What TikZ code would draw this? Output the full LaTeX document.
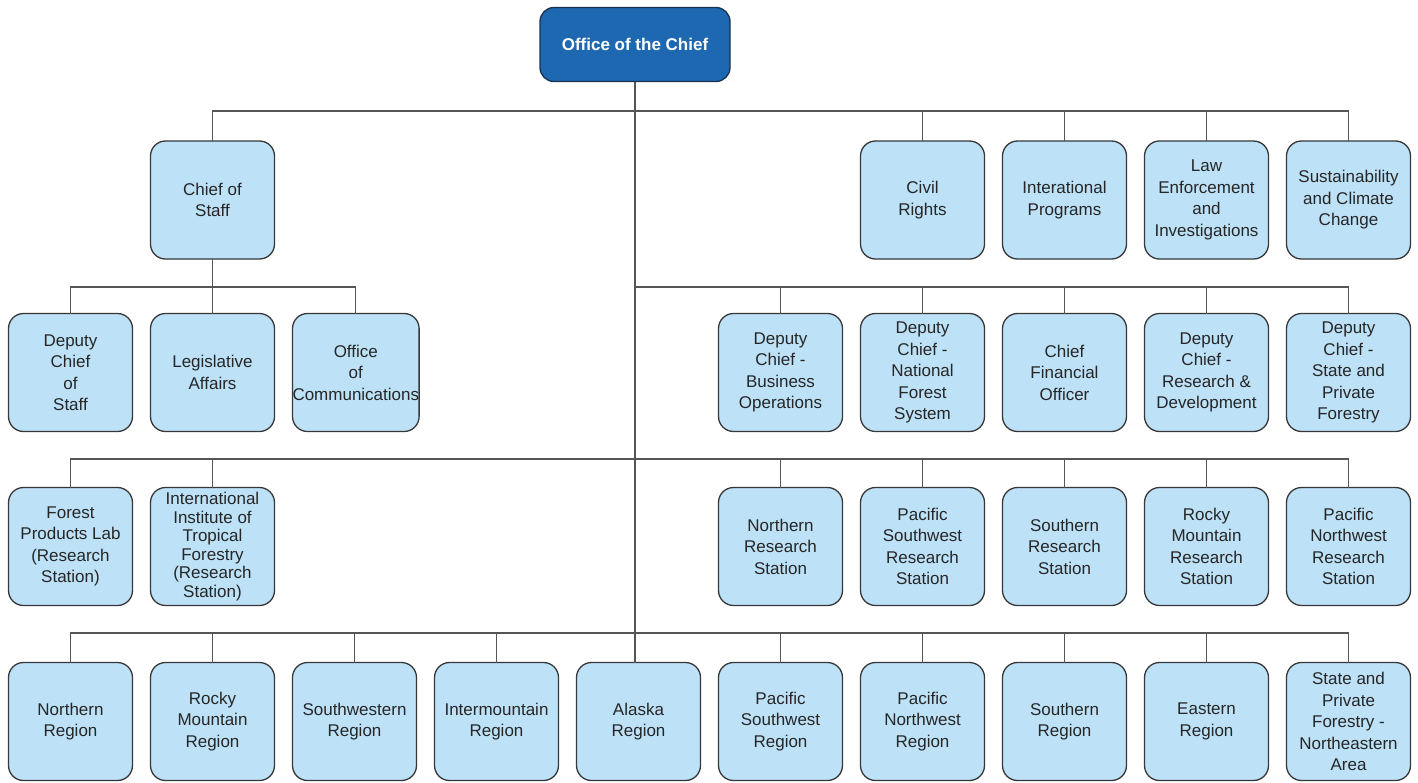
\documentclass[tikz,border=0pt]{standalone}
\usepackage{fontspec}
\setmainfont{Liberation Sans}
\usepackage{xcolor}
\usetikzlibrary{positioning}
\definecolor{boxblue}{RGB}{189,225,247}
\definecolor{chiefblue}{RGB}{30,104,178}
\definecolor{chiefedge}{RGB}{25,50,80}
\definecolor{edgegray}{RGB}{55,55,55}
\definecolor{linegray}{RGB}{85,85,85}

\begin{document}
\begin{tikzpicture}[
  x=1pt, y=-1pt,
  font=\fontsize{17}{21.5}\selectfont,
  box/.style={draw=edgegray, line width=1.3pt, fill=boxblue, rounded corners=15pt, align=center, minimum width=124pt, minimum height=118pt, inner sep=0pt, outer sep=0pt, text=black!85},
  chief/.style={draw=chiefedge, line width=1.3pt, fill=chiefblue, rounded corners=14pt, align=center, minimum width=190pt, minimum height=74pt, inner sep=0pt, outer sep=0pt, text=white, font=\bfseries\fontsize{17}{21.5}\selectfont},
  link/.style={draw=linegray, line width=1.3pt}
]
\useasboundingbox (0,0) rectangle (1418,782);

\node[chief] (chief) at (635,44.5) {Office of the Chief};

% row 1
\node[box] (staff) at (212.5,200) {Chief of\\Staff};
\node[box, right=586pt of staff] (civil) {Civil\\Rights};
\node[box, right=18pt of civil] (intl) {Interational\\Programs};
\node[box, right=18pt of intl] (law) {Law\\Enforcement\\and\\Investigations};
\node[box, right=18pt of law] (climate) {Sustainability\\and Climate\\Change};

% row 2
\node[box] (dstaff) at (70.5,372.5) {Deputy\\Chief\\of\\Staff};
\node[box, right=18pt of dstaff] (legis) {Legislative\\Affairs};
\node[box, right=18pt of legis] (comms) {Office\\of\\Communications};
\node[box, right=444pt of legis] (business) {Deputy\\Chief -\\Business\\Operations};
\node[box, right=18pt of business] (nfs) {Deputy\\Chief -\\National\\Forest\\System};
\node[box, right=18pt of nfs] (cfo) {Chief\\Financial\\Officer};
\node[box, right=18pt of cfo] (rnd) {Deputy\\Chief -\\Research \&\\Development};
\node[box, right=18pt of rnd] (spf) {Deputy\\Chief -\\State and\\Private\\Forestry};

% row 3
\node[box] (fpl) at (70.5,546.5) {Forest\\Products Lab\\(Research\\Station)};
\node[box, right=18pt of fpl, font=\fontsize{17}{18.5}\selectfont] (iitf) {International\\Institute of\\Tropical\\Forestry\\(Research\\Station)};
\node[box, right=444pt of iitf] (nrs) {Northern\\Research\\Station};
\node[box, right=18pt of nrs] (psw) {Pacific\\Southwest\\Research\\Station};
\node[box, right=18pt of psw] (srs) {Southern\\Research\\Station};
\node[box, right=18pt of srs] (rmrs) {Rocky\\Mountain\\Research\\Station};
\node[box, right=18pt of rmrs] (pnw) {Pacific\\Northwest\\Research\\Station};

% row 4
\node[box] (northern) at (70.5,721.5) {Northern\\Region};
\node[box, right=18pt of northern] (rocky) {Rocky\\Mountain\\Region};
\node[box, right=18pt of rocky] (southwestern) {Southwestern\\Region};
\node[box, right=18pt of southwestern] (intermountain) {Intermountain\\Region};
\node[box, right=18pt of intermountain] (alaska) {Alaska\\Region};
\node[box, right=18pt of alaska] (pacsw) {Pacific\\Southwest\\Region};
\node[box, right=18pt of pacsw] (pacnw) {Pacific\\Northwest\\Region};
\node[box, right=18pt of pacnw] (southern) {Southern\\Region};
\node[box, right=18pt of southern] (eastern) {Eastern\\Region};
\node[box, right=18pt of eastern] (neast) {State and\\Private\\Forestry -\\Northeastern\\Area};

% bus lines
\coordinate (bus1) at (0,111);
\coordinate (bus2) at (0,287);
\coordinate (bus3) at (0,459);
\coordinate (bus4) at (0,633);

\draw[link] (chief.south) -- (chief.south |- alaska.north);

\draw[link] (staff.north) |- (climate.north |- bus1) -- (climate.north);
\draw[link] (civil.north) -- (civil.north |- bus1)
  (intl.north) -- (intl.north |- bus1)
  (law.north) -- (law.north |- bus1);

\draw[link] (staff.south) -- (legis.north);
\draw[link] (dstaff.north) |- (comms.north |- bus2) -- (comms.north);
\draw[link] (chief.south |- bus2) -| (spf.north);
\draw[link] (business.north) -- (business.north |- bus2)
  (nfs.north) -- (nfs.north |- bus2)
  (cfo.north) -- (cfo.north |- bus2)
  (rnd.north) -- (rnd.north |- bus2);

\draw[link] (fpl.north) |- (pnw.north |- bus3) -- (pnw.north);
\draw[link] (iitf.north) -- (iitf.north |- bus3)
  (nrs.north) -- (nrs.north |- bus3)
  (psw.north) -- (psw.north |- bus3)
  (srs.north) -- (srs.north |- bus3)
  (rmrs.north) -- (rmrs.north |- bus3);

\draw[link] (northern.north) |- (neast.north |- bus4) -- (neast.north);
\draw[link] (rocky.north) -- (rocky.north |- bus4)
  (southwestern.north) -- (southwestern.north |- bus4)
  (intermountain.north) -- (intermountain.north |- bus4)
  (pacsw.north) -- (pacsw.north |- bus4)
  (pacnw.north) -- (pacnw.north |- bus4)
  (southern.north) -- (southern.north |- bus4)
  (eastern.north) -- (eastern.north |- bus4);

\end{tikzpicture}
\end{document}
